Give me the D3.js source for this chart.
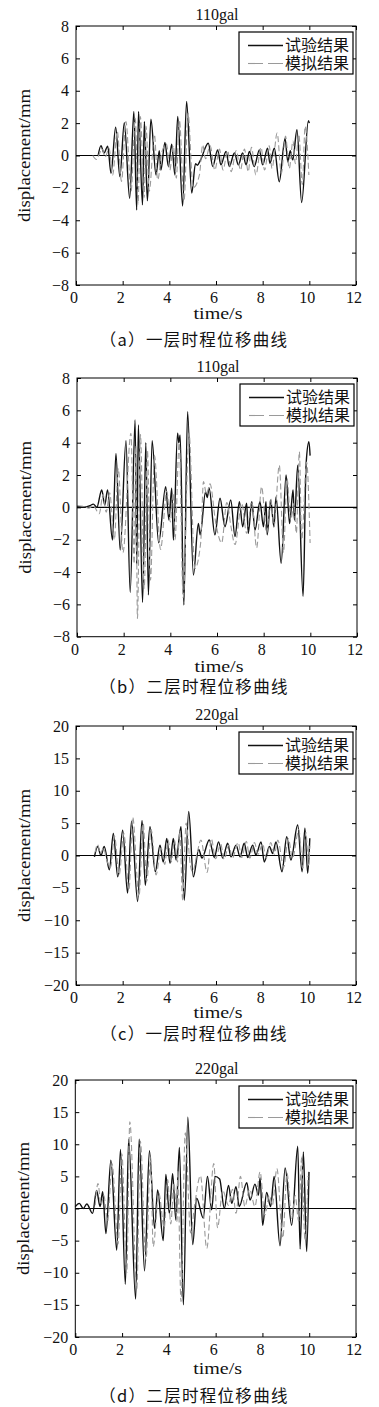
<!DOCTYPE html>
<html><head><meta charset="utf-8">
<script src="https://cdn.jsdelivr.net/npm/d3@7"></script>
<style>body{margin:0;background:#fff} svg{display:block}</style>
</head><body><svg id="c" width="379" height="1407"></svg>
<script>
const xTicks=[0,2,4,6,8,10,12];
const yTicksSmall=[-8,-6,-4,-2,0,2,4,6,8];
const yTicksLarge=[-20,-15,-10,-5,0,5,10,15,20];
const titles=["110gal","110gal","220gal","220gal"];
const captions=["（a）一层时程位移曲线","（b）二层时程位移曲线","（c）一层时程位移曲线","（d）二层时程位移曲线"];
const legendLabels=["试验结果","模拟结果"];
const xLabel="time/s", yLabel="displacement/mm";

// panel (a) 110gal, storey 1  [time s, displacement mm]
const aExp=[[0.95,0],[1.07,0.61],[1.2,0.15],[1.36,0.58],[1.5,-1.1],[1.7,1.75],[1.88,-1.3],[2.07,2.03],[2.3,-2.65],[2.48,2.72],[2.6,-3.37],[2.68,2.72],[2.85,-3.05],[2.93,2.1],[3.06,-2.8],[3.21,2.24],[3.43,-1.2],[3.57,0.3],[3.64,-0.9],[3.81,0.8],[3.96,-0.68],[4.1,0.7],[4.24,-1.2],[4.36,2.42],[4.57,-3.12],[4.74,3.34],[4.96,-2.32],[5.12,-0.5],[5.2,-0.6],[5.33,-0.3],[5.67,0.76],[5.86,-0.68],[6.07,0.35],[6.21,-0.58],[6.43,0.25],[6.57,-0.68],[6.79,0.15],[6.96,-0.58],[7.14,0.15],[7.29,-0.58],[7.43,0.25],[7.64,-0.68],[7.86,0.35],[8.0,-0.58],[8.21,0.45],[8.31,-0.48],[8.5,0.45],[8.71,-1.62],[8.96,1.05],[9.08,-0.4],[9.18,0.3],[9.29,-0.27],[9.47,1.59],[9.67,-2.9],[9.96,2.15],[10.0,2.0]];
const aSim=[[0.72,0],[0.88,-0.25],[1.0,0.1],[1.12,0.4],[1.25,-0.1],[1.42,0.45],[1.57,-1.2],[1.77,1.5],[1.95,-1.6],[2.14,2.1],[2.36,-2.2],[2.54,2.3],[2.66,-3.0],[2.76,2.4],[2.92,-2.6],[3.0,1.8],[3.14,-2.2],[3.36,1.3],[3.5,-1.5],[3.7,0.3],[3.88,0.7],[4.02,-0.9],[4.17,0.6],[4.3,-1.4],[4.43,2.2],[4.63,-2.8],[4.8,2.6],[5.02,-2.0],[5.29,-1.2],[5.43,0.66],[5.55,-0.2],[5.75,0.6],[5.95,-0.9],[6.15,0.4],[6.3,-0.9],[6.5,0.3],[6.65,-1.0],[6.87,0.3],[7.05,-0.9],[7.22,0.4],[7.38,-1.0],[7.52,0.5],[7.71,-1.2],[7.93,0.5],[8.08,-0.9],[8.28,0.6],[8.4,-0.8],[8.62,1.38],[8.8,-1.1],[8.98,1.2],[9.14,-0.8],[9.3,0.9],[9.4,-0.5],[9.55,1.3],[9.7,-1.8],[9.82,1.8],[9.98,-1.2]];

// panel (b) 110gal, storey 2
const bExp=[[0,0.05],[0.3,0.0],[0.55,0.1],[0.7,0.2],[0.85,0],[1.06,1.07],[1.19,0.15],[1.31,1.07],[1.52,-2.02],[1.67,3.34],[1.85,-2.64],[2.1,4.12],[2.28,-5.26],[2.49,5.4],[2.56,-3.5],[2.63,5.1],[2.81,-5.88],[2.95,4.0],[3.06,-5.42],[3.22,4.12],[3.5,-2.2],[3.8,1.28],[3.94,-0.78],[4.06,1.18],[4.13,-2.02],[4.31,4.58],[4.36,4.0],[4.42,4.47],[4.58,-6.04],[4.74,5.92],[4.99,-4.19],[5.2,-1.0],[5.28,-1.7],[5.51,0.97],[5.58,0.6],[5.66,1.2],[5.91,-1.7],[6.13,0.56],[6.34,-1.2],[6.59,0.45],[6.77,-1.8],[6.96,0.35],[7.1,-1.2],[7.27,0.25],[7.34,-1.6],[7.49,0.35],[7.63,-1.4],[7.84,0.35],[7.99,-1.2],[8.1,0.35],[8.15,-1.7],[8.3,0.45],[8.44,-1.2],[8.53,0.66],[8.75,-3.46],[8.96,2.0],[9.11,-1.0],[9.26,1.07],[9.32,-0.8],[9.46,2.6],[9.69,-5.5],[9.82,2.7],[9.94,4.06],[9.99,3.2]];
const bSim=[[0,0.1],[0.3,0.05],[0.5,-0.05],[0.7,0.1],[0.95,-0.4],[1.12,0.8],[1.25,-0.3],[1.4,0.9],[1.6,-2.0],[1.77,2.4],[1.97,-2.8],[2.31,4.58],[2.45,-3.5],[2.52,3.8],[2.59,-6.87],[2.72,4.5],[2.88,-5.0],[3.02,3.5],[3.15,-4.5],[3.32,3.2],[3.58,-2.6],[3.85,1.0],[4.0,-0.9],[4.12,0.9],[4.2,-2.0],[4.38,4.0],[4.55,-5.6],[4.8,4.6],[5.05,-3.8],[5.3,-2.2],[5.42,1.6],[5.55,0.8],[5.7,1.45],[5.95,-1.0],[6.2,-2.2],[6.42,0.3],[6.6,-1.2],[6.77,-2.3],[7.06,0.25],[7.27,-1.6],[7.49,0.35],[7.7,-2.5],[7.91,1.28],[8.13,-1.6],[8.3,0.55],[8.44,-1.2],[8.67,2.6],[8.85,-2.8],[9.0,1.8],[9.16,-0.8],[9.3,0.25],[9.4,-1.6],[9.53,3.44],[9.63,-2.0],[9.84,2.8],[9.99,-2.2]];

// panel (c) 220gal, storey 1
const cExp=[[0.79,-0.2],[0.93,1.4],[1.07,0],[1.21,1.4],[1.43,-2.2],[1.6,3.4],[1.79,-3.3],[2.0,3.9],[2.21,-5.8],[2.38,5.3],[2.64,-7.1],[2.83,5.4],[2.97,-4.6],[3.17,4.45],[3.4,-2.5],[3.6,1.6],[3.74,-1.0],[3.89,2.65],[4.03,-1.2],[4.17,2.65],[4.29,-0.7],[4.5,4.45],[4.64,-6.9],[4.83,6.8],[5.03,-3.3],[5.26,0.95],[5.4,-0.4],[5.71,2.4],[5.93,-0.3],[6.11,2.1],[6.29,-0.4],[6.5,1.9],[6.64,-0.2],[6.86,1.6],[7.03,-0.2],[7.21,1.9],[7.36,-0.3],[7.57,1.6],[7.71,0.1],[7.93,2.1],[8.07,-1.0],[8.29,1.4],[8.43,0.3],[8.57,2.1],[8.83,-2.5],[9.03,2.9],[9.21,-0.7],[9.5,4.7],[9.69,-2.5],[9.81,4.2],[9.93,-2.75],[10.02,2.65]];
const cSim=[[0.82,0.5],[0.92,1.7],[1.05,0.3],[1.18,1.2],[1.3,-0.5],[1.48,-1.8],[1.65,3.0],[1.85,-3.0],[2.05,3.4],[2.27,-5.3],[2.43,5.9],[2.7,-6.3],[2.88,5.0],[3.03,-4.0],[3.22,4.0],[3.43,-3.0],[3.65,1.2],[3.8,-1.4],[3.95,2.4],[4.08,-1.0],[4.22,2.4],[4.35,-1.0],[4.45,3.8],[4.57,-6.9],[4.72,5.0],[4.9,-1.5],[5.0,-2.5],[5.2,0.5],[5.35,2.4],[5.62,-2.6],[5.8,2.6],[5.98,-0.5],[6.2,1.8],[6.35,-0.6],[6.55,1.6],[6.7,-0.4],[6.95,2.0],[7.1,-0.3],[7.3,2.2],[7.45,-0.4],[7.65,2.0],[7.8,0.2],[8.0,1.8],[8.15,-0.4],[8.35,2.0],[8.5,0.2],[8.65,2.4],[8.9,-1.8],[9.1,2.6],[9.28,-0.4],[9.55,4.0],[9.72,-2.0],[9.85,3.6],[9.97,-1.5],[10.02,1.5]];

// panel (d) 220gal, storey 2
const dExp=[[0.0,0.3],[0.17,0.8],[0.34,0.0],[0.49,0.7],[0.74,-0.75],[0.91,2.8],[1.06,0.3],[1.17,2.6],[1.31,-3.9],[1.52,7.5],[1.77,-6.5],[1.93,9.2],[2.14,-11.8],[2.28,10.8],[2.58,-14.1],[2.73,10.8],[2.96,-9.7],[3.17,9.0],[3.39,-3.1],[3.52,2.9],[3.76,-5.0],[3.87,5.3],[4.02,-0.75],[4.16,5.4],[4.3,-1.8],[4.45,9.5],[4.62,-15.0],[4.81,14.2],[5.02,-5.6],[5.19,1.6],[5.47,-1.5],[5.65,5.0],[5.83,-0.2],[5.97,5.0],[6.17,4.6],[6.37,0.0],[6.55,3.6],[6.69,0.8],[6.87,3.4],[7.01,0.3],[7.33,4.0],[7.47,1.3],[7.68,3.8],[7.83,2.1],[7.9,4.8],[8.01,-2.6],[8.18,2.5],[8.35,0.3],[8.5,5.0],[8.75,-5.8],[8.97,6.3],[9.25,-2.6],[9.51,9.7],[9.61,-6.3],[9.75,8.8],[9.89,-6.7],[9.99,5.7]];
const dSim=[[0.85,0.5],[0.97,3.9],[1.1,0.5],[1.22,2.0],[1.38,-2.0],[1.57,7.0],[1.83,-5.5],[1.99,8.5],[2.2,-10.0],[2.33,13.5],[2.63,-12.5],[2.78,10.5],[3.02,-8.0],[3.22,8.0],[3.33,-5.9],[3.57,2.4],[3.8,-3.0],[3.95,4.5],[4.08,-2.4],[4.22,4.0],[4.35,-2.0],[4.38,6.0],[4.52,-14.5],[4.7,11.8],[4.93,-3.8],[5.1,0.5],[5.35,5.1],[5.62,-6.2],[5.92,7.0],[6.08,-3.0],[6.3,2.8],[6.55,0.5],[6.72,3.0],[6.87,-0.75],[7.06,5.0],[7.25,0.3],[7.45,3.0],[7.68,0.3],[7.9,5.7],[8.1,-1.0],[8.3,2.0],[8.42,0.5],[8.62,6.2],[8.87,-4.6],[9.05,5.5],[9.25,-1.5],[9.4,2.0],[9.55,-2.0],[9.68,8.0],[9.82,-5.0],[9.95,5.0]];

const panels=[
 {exp:aExp,sim:aSim,yT:yTicksSmall,title:titles[0],cap:captions[0]},
 {exp:bExp,sim:bSim,yT:yTicksSmall,title:titles[1],cap:captions[1]},
 {exp:cExp,sim:cSim,yT:yTicksLarge,title:titles[2],cap:captions[2]},
 {exp:dExp,sim:dSim,yT:yTicksLarge,title:titles[3],cap:captions[3]}
];
const layout=[
 {x0:76,x1:356,y0:26,y1:285,tl:34,cp:61},
 {x0:77,x1:357,y0:378,y1:636.7,tl:35,cp:56},
 {x0:76,x1:356,y0:726,y1:985,tl:33,cp:55},
 {x0:75.3,x1:356,y0:1080,y1:1337,tl:37,cp:65}
];
const SERIF='"Liberation Serif","DejaVu Serif",serif';
const CJK='"Noto Sans CJK SC","Noto Sans CJK JP",sans-serif';
const svg=d3.select("#c");

panels.forEach((p,i)=>{
  const L=layout[i];
  const yMax=d3.max(p.yT), yMin=d3.min(p.yT);
  const x=d3.scaleLinear().domain([0,12]).range([L.x0,L.x1]);
  const y=d3.scaleLinear().domain([yMin,yMax]).range([L.y1,L.y0]);
  const g=svg.append("g");
  const tk=4;
  // ticks (inward, all sides)
  const axB=d3.axisBottom(x).tickValues(xTicks).tickSize(-tk).tickFormat("");
  const axT=d3.axisTop(x).tickValues(xTicks).tickSize(-tk).tickFormat("");
  const axL=d3.axisLeft(y).tickValues(p.yT).tickSize(-tk).tickFormat("");
  const axR=d3.axisRight(y).tickValues(p.yT).tickSize(-tk).tickFormat("");
  [[axB,`translate(0,${L.y1})`],[axT,`translate(0,${L.y0})`],[axL,`translate(${L.x0},0)`],[axR,`translate(${L.x1},0)`]].forEach(([ax,tr])=>{
    const a=g.append("g").attr("transform",tr).call(ax);
    a.select(".domain").remove();
    a.selectAll(".tick line").attr("stroke","#000").attr("stroke-width",1);
  });
  // tick labels
  const fmt=d3.format("");
  g.selectAll(null).data(xTicks).enter().append("text")
    .attr("x",d=>x(d)-2).attr("y",L.y1+18).attr("text-anchor","middle")
    .attr("font-family",SERIF).attr("font-size",16).attr("fill","#111").text(d=>fmt(d));
  g.selectAll(null).data(p.yT).enter().append("text")
    .attr("x",L.x0-7).attr("y",d=>y(d)).attr("dy","0.35em").attr("text-anchor","end")
    .attr("font-family",SERIF).attr("font-size",16).attr("fill","#111").text(d=>fmt(d));
  // zero line
  g.append("line").attr("x1",L.x0).attr("x2",L.x1).attr("y1",y(0)).attr("y2",y(0))
    .attr("stroke","#000").attr("stroke-width",1.2);
  const line=d3.line().x(d=>x(d[0])).y(d=>y(d[1])).curve(d3.curveMonotoneX);
  g.append("path").attr("d",line(p.exp)).attr("fill","none").attr("stroke","#111").attr("stroke-width",1.4);
  g.append("path").attr("d",line(p.sim)).attr("fill","none").attr("stroke","#9a9a9a").attr("stroke-width",1.1).attr("stroke-dasharray","6,3");
  // frame
  g.append("rect").attr("x",L.x0).attr("y",L.y0).attr("width",L.x1-L.x0).attr("height",L.y1-L.y0)
    .attr("fill","none").attr("stroke","#000").attr("stroke-width",1);
  // title
  g.append("text").attr("x",(L.x0+L.x1)/2+1).attr("y",L.y0-6).attr("text-anchor","middle")
    .attr("font-family",SERIF).attr("font-size",16).attr("fill","#111").text(p.title);
  // axis labels
  g.append("text").attr("x",(L.x0+L.x1)/2+2).attr("y",L.y1+L.tl).attr("text-anchor","middle")
    .attr("font-family",SERIF).attr("font-size",17).attr("fill","#111")
    .attr("textLength",49).attr("lengthAdjust","spacingAndGlyphs").text(xLabel);
  g.append("text").attr("transform",`translate(${L.x0-46},${(L.y0+L.y1)/2}) rotate(-90)`)
    .attr("text-anchor","middle").attr("font-family",SERIF).attr("font-size",17).attr("fill","#111")
    .attr("textLength",133).attr("lengthAdjust","spacingAndGlyphs").text(yLabel);
  // caption
  g.append("text").attr("x",194).attr("y",L.y1+L.cp).attr("text-anchor","middle")
    .attr("font-family",CJK).attr("font-size",16.5).attr("letter-spacing",1.3).attr("fill","#111").text(p.cap);
  // legend
  const bx=L.x1-117, by=L.y0+6, bw=114, bh=42;
  const lg=g.append("g");
  lg.append("rect").attr("x",bx).attr("y",by).attr("width",bw).attr("height",bh)
    .attr("fill","#fff").attr("stroke","#000").attr("stroke-width",1.2);
  const rows=[{lab:legendLabels[0],c:"#111",w:1.4,da:null},{lab:legendLabels[1],c:"#9a9a9a",w:1.1,da:"15,5"}];
  rows.forEach((r,j)=>{
    const ry=by+13.5+j*18;
    lg.append("line").attr("x1",bx+9).attr("x2",bx+44).attr("y1",ry).attr("y2",ry)
      .attr("stroke",r.c).attr("stroke-width",r.w).attr("stroke-dasharray",r.da);
    lg.append("text").attr("x",bx+46).attr("y",ry).attr("dy","0.36em")
      .attr("font-family",CJK).attr("font-size",16).attr("fill","#111").text(r.lab);
  });
});
</script></body></html>
